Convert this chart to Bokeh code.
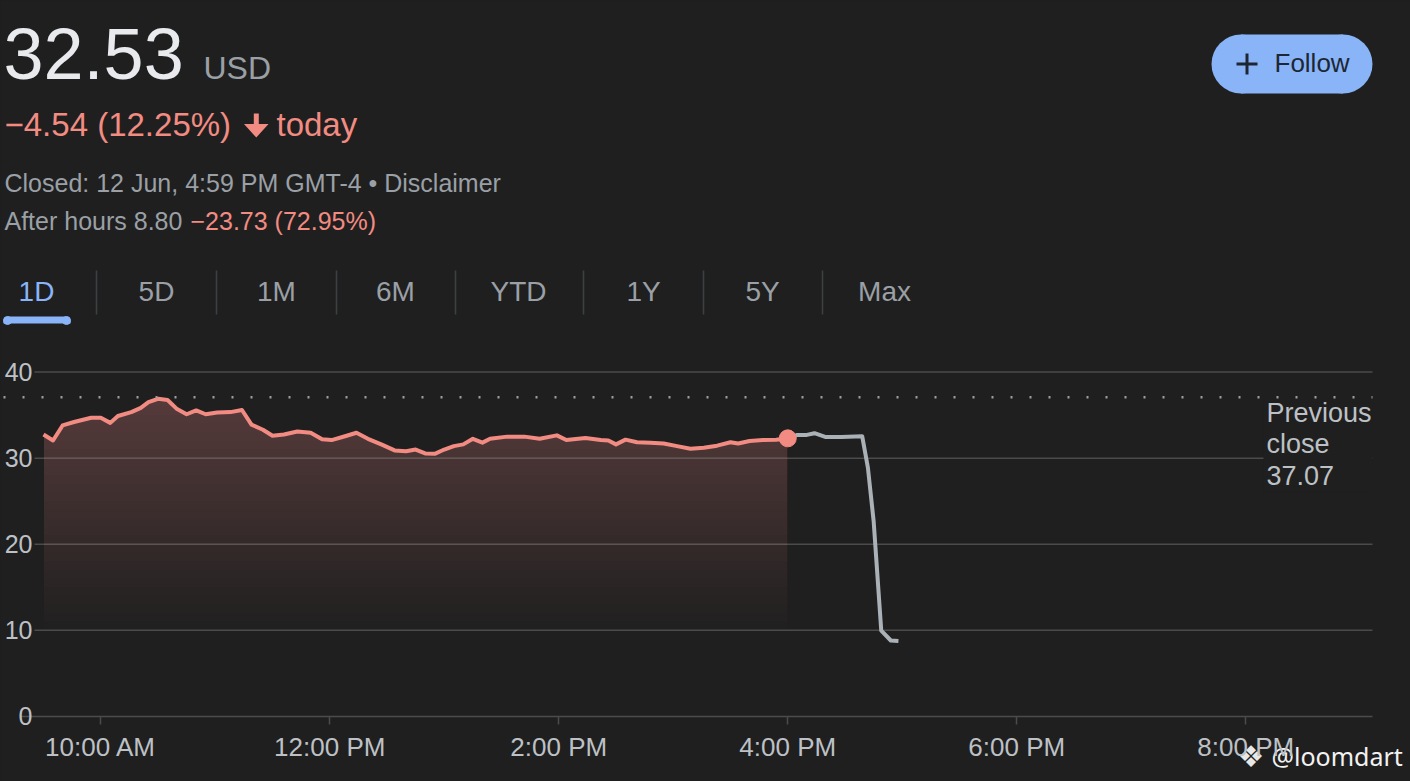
import numpy as np
from bokeh.plotting import figure
from bokeh.models import Range1d, FixedTicker, LinearAxis
from bokeh.core.properties import value
from bokeh.embed import file_html
from bokeh.resources import INLINE

# ---------------- data ----------------
regular_times = ["9:30", "9:35", "9:40", "9:46", "9:55", "10:00", "10:05", "10:09", "10:16", "10:21",
                 "10:25", "10:30", "10:35", "10:40", "10:45", "10:50", "10:55", "11:01", "11:08", "11:14",
                 "11:19", "11:25", "11:30", "11:36", "11:43", "11:50", "11:56", "12:01", "12:08", "12:14",
                 "12:20", "12:27", "12:34", "12:40", "12:45", "12:50", "12:55", "13:00", "13:05", "13:10",
                 "13:15", "13:20", "13:24", "13:33", "13:42", "13:50", "13:59", "14:04", "14:14", "14:22",
                 "14:26", "14:30", "14:35", "14:41", "14:48", "14:55", "15:02", "15:09", "15:16", "15:23",
                 "15:30", "15:34", "15:40", "15:47", "15:54", "16:00"]
regular_prices = [32.75, 32.05, 33.8, 34.2, 34.7, 34.7, 34.1, 34.9, 35.35, 35.85,
                  36.5, 36.9, 36.75, 35.7, 35.1, 35.55, 35.1, 35.3, 35.35, 35.6,
                  33.9, 33.3, 32.6, 32.75, 33.1, 32.95, 32.2, 32.1, 32.55, 32.95,
                  32.25, 31.6, 30.9, 30.8, 31.0, 30.55, 30.5, 31.0, 31.4, 31.6,
                  32.25, 31.8, 32.25, 32.5, 32.5, 32.25, 32.65, 32.1, 32.35, 32.1,
                  32.05, 31.6, 32.15, 31.85, 31.8, 31.7, 31.4, 31.1, 31.2, 31.45,
                  31.85, 31.7, 32.0, 32.1, 32.15, 32.3]
after_times = ["16:00", "16:05", "16:10", "16:14", "16:20", "16:28", "16:39", "16:42", "16:45", "16:49", "16:54", "16:58"]
after_prices = [32.3, 32.7, 32.7, 32.9, 32.45, 32.45, 32.55, 28.9, 22.7, 9.95, 8.8, 8.75]
previous_close = 37.07
y_ticks = [0, 10, 20, 30, 40]
x_ticks = [10, 12, 14, 16, 18, 20]
x_tick_labels = ["10:00 AM", "12:00 PM", "2:00 PM", "4:00 PM", "6:00 PM", "8:00 PM"]
tab_labels = ["1D", "5D", "1M", "6M", "YTD", "1Y", "5Y", "Max"]

# ---------------- style ----------------
BG = "#1f1f1f"
RED = "#f28b82"
BLUE = "#8ab4f8"
GRAY = "#9aa0a6"
LIGHT = "#bdc1c6"
GRID = "#4b4b4b"
AH_LINE = "#aab2b8"
DARK_TXT = "#1c2733"
FONT = "Liberation Sans"
W, H = 1410, 781
PX_PER_H = 114.5      # pixels per hour
PX_PER_U = 8.602      # pixels per dollar
BASE_SHIFT = 0.385    # baseline correction (fraction of font size)


def xd(px):
    """page pixel x -> hours"""
    return 9.5 + (px - 43) / PX_PER_H


def yd(py):
    """page pixel y -> price"""
    return (715.7 - py) / PX_PER_U


def to_hours(t):
    h, m = t.split(":")
    return int(h) + int(m) / 60.0


p = figure(width=W, height=H, x_range=Range1d(xd(0), xd(W)), y_range=Range1d(yd(H), yd(0)),
           x_axis_type=None, y_axis_type=None, toolbar_location=None, output_backend="svg",
           min_border=0, background_fill_color=BG, border_fill_color=BG, outline_line_color=None)


def txt(px, py, s, size, color, font=FONT, align="left"):
    p.text(x=[xd(px)], y=[yd(py - BASE_SHIFT * size)], text=[s], text_font=value(font),
           text_font_size=value(f"{size}px"), text_color=color, text_align=align,
           text_baseline="alphabetic")


# ---------------- header ----------------
txt(3, 81, "32.53", 72, "#e8eaed")
txt(203, 80, "USD", 32, GRAY)
txt(4, 137, "\u22124.54 (12.25%)", 33, RED)
p.quad(left=[xd(253.3)], right=[xd(258.3)], top=[yd(113)], bottom=[yd(127)], fill_color=RED, line_color=None)
p.patch(x=[xd(243.5), xd(268), xd(255.8)], y=[yd(123.5), yd(123.5), yd(137)], fill_color=RED, line_color=None)
txt(276, 137, "today", 33, RED)
txt(4, 192, "Closed: 12 Jun, 4:59 PM GMT-4 \u2022 Disclaimer", 25, GRAY)
txt(4, 230, "After hours 8.80", 25, GRAY)
txt(190, 230, "\u221223.73 (72.95%)", 25, RED)

tab_x = [36, 156, 276, 395, 518, 643, 762, 884]
for i, (lab, tx) in enumerate(zip(tab_labels, tab_x)):
    txt(tx, 302, lab, 28, BLUE if i == 0 else GRAY, align="center")
sep_px = [96, 216, 336, 455, 583, 703, 822]
p.segment(x0=[xd(s) for s in sep_px], y0=[yd(270)] * len(sep_px),
          x1=[xd(s) for s in sep_px], y1=[yd(314)] * len(sep_px), line_color="#3c4043", line_width=1.5)
p.quad(left=[xd(3)], right=[xd(70)], top=[yd(319)], bottom=[yd(323)], fill_color=BLUE, line_color=None)
p.quad(left=[xd(7)], right=[xd(66)], top=[yd(316)], bottom=[yd(320)], fill_color=BLUE, line_color=None)
p.scatter(x=[xd(7), xd(66)], y=[yd(320), yd(320)], size=8, color=BLUE)

# Follow button
p.quad(left=[xd(1240.5)], right=[xd(1342.5)], top=[yd(34)], bottom=[yd(93)], fill_color=BLUE, line_color=None)
p.scatter(x=[xd(1240.5), xd(1342.5)], y=[yd(63.5), yd(63.5)], size=59, fill_color=BLUE, line_color=None)
p.segment(x0=[xd(1236), xd(1246.5)], y0=[yd(63.5), yd(53)], x1=[xd(1257), xd(1246.5)], y1=[yd(63.5), yd(74)],
          line_color=DARK_TXT, line_width=3)
txt(1274, 73, "Follow", 26, DARK_TXT)

# ---------------- chart axes & grid ----------------
xaxis = LinearAxis(fixed_location=0, ticker=FixedTicker(ticks=x_ticks), bounds=(xd(20), xd(1372)))
xaxis.major_label_overrides = {t: l for t, l in zip(x_ticks, x_tick_labels)}
xaxis.axis_line_color = GRID
xaxis.axis_line_width = 1.5
xaxis.major_tick_line_color = GRID
xaxis.major_tick_line_width = 1.5
xaxis.major_tick_in = 0
xaxis.major_tick_out = 8
xaxis.minor_tick_line_color = None
xaxis.major_label_standoff = 8
xaxis.major_label_text_color = LIGHT
xaxis.major_label_text_font = FONT
xaxis.major_label_text_font_size = "26px"
p.add_layout(xaxis, "below")

yaxis = LinearAxis(fixed_location=xd(40), ticker=FixedTicker(ticks=y_ticks))
yaxis.axis_line_color = None
yaxis.major_tick_line_color = None
yaxis.minor_tick_line_color = None
yaxis.major_label_standoff = 2
yaxis.major_label_text_color = LIGHT
yaxis.major_label_text_font = FONT
yaxis.major_label_text_font_size = "25px"
p.add_layout(yaxis, "left")

grid_vals = [t for t in y_ticks if t > 0]
p.segment(x0=[xd(34)] * len(grid_vals), y0=grid_vals, x1=[xd(1372)] * len(grid_vals), y1=grid_vals,
          line_color=GRID, line_width=1.5)

# ---------------- series ----------------
rx = np.array([to_hours(t) for t in regular_times])
rp = np.array(regular_prices)
ax = np.array([to_hours(t) for t in after_times])
ap = np.array(after_prices)

# gradient fill under the regular-session line (stacked translucent bands)
for level in np.arange(10, 37, 1.0):
    p.varea(x=rx, y1=np.full_like(rp, level), y2=np.maximum(rp, level),
            fill_color=RED, fill_alpha=0.011)

p.line(ax, ap, line_color=AH_LINE, line_width=4, line_join="round")
p.line(rx, rp, line_color=RED, line_width=4, line_join="round")
p.scatter([rx[-1]], [rp[-1]], size=17, color=RED)

# previous close label with background box
p.quad(left=[xd(1263)], right=[xd(1372)], top=[yd(402)], bottom=[yd(492)], fill_color=BG, line_color=None)
for line_txt, base in zip(["Previous", "close", f"{previous_close:.2f}"], [423, 454, 485]):
    txt(1266, base, line_txt, 27, LIGHT)

p.segment(x0=[xd(3)], y0=[previous_close], x1=[xd(1372)], y1=[previous_close],
          line_color=GRAY, line_width=2.5, line_dash="2 17")

# watermark
txt(1237, 768, "\u2756", 30, "#e8e8e8", font="DejaVu Sans")
txt(1271, 765, "@loomdart", 25, "#f2f2f2", font="Noto Sans")

html = file_html(p, INLINE, title="32.53 USD")
html = html.replace("</head>", "<style>body{background:#1f1f1f;}</style></head>", 1)
open("out.html", "w").write(html)
